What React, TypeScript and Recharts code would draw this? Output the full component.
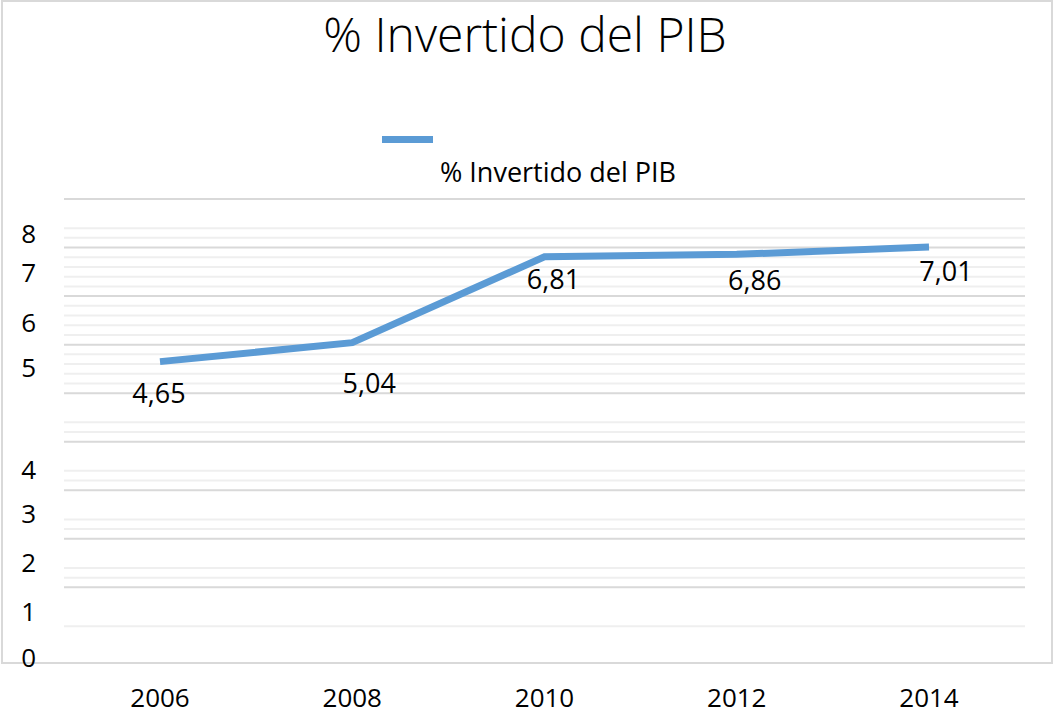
import React from "react";
import {
  CartesianGrid,
  LabelList,
  Legend,
  Line,
  LineChart,
  XAxis,
  YAxis,
} from "recharts";

const YEARS = ["2006", "2008", "2010", "2012", "2014"];
const INVESTED = [4.65, 5.04, 6.81, 6.86, 7.01];

// the left labels sit where the source picture put them, not on the data scale
const Y_TICK_LABELS = ["8", "7", "6", "5", "4", "3", "2", "1", "0"];
const Y_TICK_AT = [7.28, 6.47, 5.45, 4.53, 2.43, 1.51, 0.51, -0.51, -1.46];

const MAJOR_GRID = [0, 1, 2, 3, 4, 5, 6, 7, 8];
const MINOR_GRID = [
  7.4, 7.2, 6.8, 6.6, 6.4, 6.2, 5.8, 5.6, 5.4, 5.2, 4.8, 4.6, 4.4, 4.2, 3.4,
  3.2, 2.4, 2.2, 1.4, 1.2, 0.4, 0.2, -0.8,
];

const SERIES_NAME = "% Invertido del PIB";
const BLUE = "#5b9bd5";
const FONT = "'Open Sans', sans-serif";

// label nudges (dx, dy) from each point
const LABEL_NUDGE = [
  [-1, 31],
  [17, 40],
  [9, 22],
  [18, 25],
  [17, 23],
];

const data = YEARS.map((year, i) => ({ year, value: INVESTED[i] }));

function ValueLabel(props: any) {
  const { x, y, value, index } = props;
  const [dx, dy] = LABEL_NUDGE[index] ?? [0, 25];
  return (
    <text
      x={x + dx}
      y={y + dy}
      textAnchor="middle"
      dominantBaseline="central"
      fontFamily={FONT}
      fontSize={27}
      fill="#000"
    >
      {Number(value).toFixed(2).replace(".", ",")}
    </text>
  );
}

function LegendBox() {
  return (
    <div style={{ position: "relative", width: 1054, height: 200 }}>
      <div
        style={{
          position: "absolute",
          left: 382,
          top: 136,
          width: 51,
          height: 7,
          background: BLUE,
        }}
      />
      <div
        style={{
          position: "absolute",
          left: 440,
          top: 158,
          fontFamily: FONT,
          fontSize: 27,
          lineHeight: "27px",
          whiteSpace: "nowrap",
          color: "#000",
        }}
      >
        {SERIES_NAME}
      </div>
    </div>
  );
}

export default function App() {
  return (
    <div
      style={{
        position: "absolute",
        left: 0,
        top: 0,
        width: 1054,
        height: 717,
        background: "#fff",
      }}
    >
      <div
        style={{
          position: "absolute",
          left: 1,
          top: 0,
          width: 1052,
          height: 664,
          border: "2px solid #d9d9d9",
          boxSizing: "border-box",
        }}
      />
      <div
        style={{
          position: "absolute",
          left: 25,
          top: 10,
          width: 1000,
          textAlign: "center",
          fontFamily: FONT,
          fontWeight: 300,
          fontSize: 48,
          lineHeight: "48px",
          color: "#000",
          whiteSpace: "nowrap",
        }}
      >
        {SERIES_NAME}
      </div>
      <div style={{ position: "absolute", left: 0, top: 0 }}>
        <LineChart
          width={1054}
          height={717}
          data={data}
          margin={{ top: 199, right: 29, bottom: 0, left: 0 }}
        >
          <CartesianGrid
            vertical={false}
            horizontalValues={MINOR_GRID}
            stroke="#efefef"
            strokeWidth={2}
          />
          <CartesianGrid
            vertical={false}
            horizontalValues={MAJOR_GRID}
            stroke="#d9d9d9"
            strokeWidth={2}
          />
          <XAxis
            dataKey="year"
            axisLine={false}
            tickLine={false}
            tickSize={0}
            tickMargin={24}
            height={52}
            padding={{ left: 96, right: 96 }}
            tick={{ fontFamily: FONT, fontSize: 26, fill: "#000" }}
          />
          <YAxis
            type="number"
            domain={[-1.6, 8]}
            ticks={Y_TICK_AT}
            interval={0}
            width={64}
            axisLine={false}
            tickLine={false}
            tickSize={0}
            tickMargin={28}
            tickFormatter={(v: number) => Y_TICK_LABELS[Y_TICK_AT.indexOf(v)] ?? ""}
            tick={{ fontFamily: FONT, fontSize: 26, fill: "#000" }}
          />
          <Legend
            verticalAlign="middle"
            layout="horizontal"
            wrapperStyle={{ left: 0, top: 0, width: 1054, height: 200 }}
            content={() => <LegendBox />}
          />
          <Line
            type="linear"
            dataKey="value"
            name={SERIES_NAME}
            stroke={BLUE}
            strokeWidth={7}
            dot={false}
            activeDot={false}
            isAnimationActive={false}
          >
            <LabelList dataKey="value" content={<ValueLabel />} />
          </Line>
        </LineChart>
      </div>
    </div>
  );
}
